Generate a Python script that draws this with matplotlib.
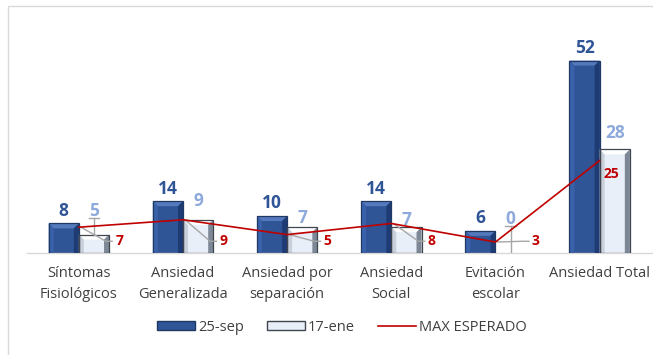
import numpy as np
import matplotlib
matplotlib.use('Agg')
from matplotlib import pyplot as plt
from matplotlib.patches import Polygon, Rectangle
from matplotlib.lines import Line2D

categories = ['Síntomas\nFisiológicos', 'Ansiedad\nGeneralizada', 'Ansiedad por\nseparación',
              'Ansiedad\nSocial', 'Evitación\nescolar', 'Ansiedad Total']
sep25 = [8, 14, 10, 14, 6, 52]
ene17 = [5, 9, 7, 7, 0, 28]
max_esperado = [7, 9, 5, 8, 3, 25]

# label placement (units above the bar top) for the 17-ene labels
ene_label_lift = [6.4, 5.0, 2.4, 1.9, 9.3, 4.5]

plt.rcParams['font.family'] = ['Open Sans', 'DejaVu Sans']

fig = plt.figure(figsize=(6.53, 3.55), dpi=100)
ax = fig.add_axes([0.041, 0.287, 0.957, 0.631])

# faint chart frame
fig.patches.append(Rectangle((8 / 653, -0.1), 1.2, (355 - 6) / 355 + 0.1,
                             transform=fig.transFigure, fill=False,
                             edgecolor='#D9D9D9', linewidth=1.0))

x = np.arange(len(categories))
w = 0.29
ax.set_xlim(-0.5, 5.5)
ax.set_ylim(0, 60.5)

# px -> data units for the bevel width
px_x = 6.0 / 624
px_y = 1.0 / 3.75


def bevel_bar(x0, h, face, top, left, right, edge):
    if h <= 0:
        return
    bx = 5 * px_x
    by = min(5 * px_y, h / 3)
    ax.add_patch(Rectangle((x0, 0), w, h, facecolor=face, edgecolor='none', zorder=2))
    ax.add_patch(Polygon([(x0, h), (x0 + w, h), (x0 + w - bx, h - by), (x0 + bx, h - by)],
                         closed=True, facecolor=top, edgecolor='none', zorder=3))
    ax.add_patch(Polygon([(x0, 0), (x0, h), (x0 + bx, h - by), (x0 + bx, 0)],
                         closed=True, facecolor=left, edgecolor='none', zorder=3))
    ax.add_patch(Polygon([(x0 + w, 0), (x0 + w, h), (x0 + w - bx, h - by), (x0 + w - bx, 0)],
                         closed=True, facecolor=right, edgecolor='none', zorder=3))
    ax.add_patch(Rectangle((x0, 0), w, h, fill=False, edgecolor=edge, linewidth=0.9, zorder=4))


for i in range(len(categories)):
    bevel_bar(x[i] - w, sep25[i], '#2F5597', '#5479BD', '#3A62AA', '#1E3C73', '#1F3864')
    bevel_bar(x[i], ene17[i], '#E9EFF8', '#FFFFFF', '#C9D0DA', '#7D8796', '#3F4650')

ax.plot(x, max_esperado, color='#C00000', linewidth=1.2, zorder=6)

red_y = 3.2
for i in range(len(categories)):
    ax.text(x[i] - w / 2, sep25[i] + 1.0, str(sep25[i]), ha='center', va='bottom',
            fontsize=12.5, fontweight='bold', color='#2F5597', zorder=7)
    ly = ene17[i] + ene_label_lift[i]
    ax.text(x[i] + w / 2, ly, str(ene17[i]), ha='center', va='center',
            fontsize=12.5, fontweight='bold', color='#8EA9DB', zorder=7)
    if i in (0, 4):
        # leader from the lifted label down to its bar
        ax.plot([x[i] + w / 2] * 2, [ly - 2.0, ene17[i]], color='#A6A6A6', lw=1.0, zorder=5)
        ax.plot([x[i] + w / 2 - 0.05, x[i] + w / 2 + 0.05], [ly - 2.0] * 2,
                color='#A6A6A6', lw=1.0, zorder=5)
    if i < 5:
        ax.plot([x[i] + 0.02, x[i] + w - 0.03, x[i] + w + 0.03],
                [max_esperado[i], red_y, red_y], color='#A6A6A6', lw=1.0, zorder=5)
        ax.text(x[i] + w + 0.06, red_y, str(max_esperado[i]), ha='left', va='center',
                fontsize=10, fontweight='bold', color='#C00000', zorder=7)
    else:
        ax.text(x[i] + w * 0.4, max_esperado[i] - 3.5, str(max_esperado[i]), ha='center',
                va='center', fontsize=10, fontweight='bold', color='#C00000', zorder=7)

ax.set_xticks(x)
ax.set_xticklabels(categories, fontsize=10.5, color='#404040', linespacing=1.6)
ax.tick_params(axis='x', length=0, pad=9)
ax.set_yticks([])
for s in ['top', 'right', 'left']:
    ax.spines[s].set_visible(False)
ax.spines['bottom'].set_color('#D9D9D9')
ax.spines['bottom'].set_linewidth(1.0)

handles = [Rectangle((0, 0), 1, 1, facecolor='#2F5597', edgecolor='#1F3864'),
           Rectangle((0, 0), 1, 1, facecolor='#E9EFF8', edgecolor='#3F4650'),
           Line2D([], [], color='#C00000', linewidth=1.2)]
fig.legend(handles, ['25-sep', '17-ene', 'MAX ESPERADO'], loc='center',
           bbox_to_anchor=(0.524, 0.078), ncol=3, frameon=False, fontsize=10.5,
           handlelength=2.6, handleheight=0.55, handletextpad=0.2, columnspacing=1.6,
           labelcolor='#404040')

fig.savefig('out.png', dpi=100)
